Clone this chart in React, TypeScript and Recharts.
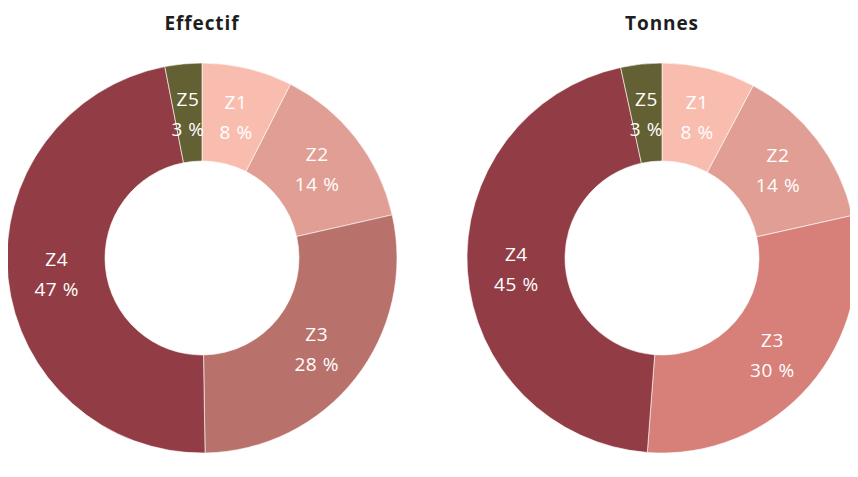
import { Pie, PieChart, Cell } from 'recharts';

const zones = ['Z1', 'Z2', 'Z3', 'Z4', 'Z5'];
// shares in % (labels show them rounded)
const effectifValues = [7.5, 13.95, 28.3, 47.2, 3.05];
const tonnesValues = [7.75, 13.75, 29.7, 45.4, 3.4];
const effectifColors = ['#F9BDAF', '#E09E94', '#B8726B', '#923D45', '#636033'];
const tonnesColors = ['#F9BDAF', '#E09E94', '#D77F79', '#923D45', '#636033'];
const titles = ['Effectif', 'Tonnes'];

const RADIAN = Math.PI / 180;
const font = '"Open Sans", Lato, sans-serif';

function renderLabel(props: any) {
  const { cx, cy, midAngle, innerRadius, outerRadius, payload } = props;
  const r = (innerRadius + outerRadius) / 2;
  const x = cx + r * Math.cos(-midAngle * RADIAN);
  const y = cy + r * Math.sin(-midAngle * RADIAN);
  return (
    <text
      x={x}
      y={y}
      fill="#ffffff"
      textAnchor="middle"
      fontFamily={font}
      fontSize={19}
      letterSpacing={0.6}
    >
      <tspan x={x} dy={-7}>
        {payload.zone}
      </tspan>
      <tspan x={x} dy={30}>
        {`${Math.round(payload.value)} %`}
      </tspan>
    </text>
  );
}

const effectifData = zones.map((zone, i) => ({ zone, value: effectifValues[i] }));
const tonnesData = zones.map((zone, i) => ({ zone, value: tonnesValues[i] }));

export default function App() {
  return (
    <div style={{ position: 'relative', width: 850, height: 469, fontFamily: font, overflow: 'hidden' }}>
      {titles.map((t, i) => (
        <div
          key={t}
          style={{
            position: 'absolute',
            top: 2,
            left: i === 0 ? 94 : 554,
            width: 200,
            textAlign: 'center',
            fontSize: 19,
            letterSpacing: 0.9,
            fontWeight: 700,
            color: '#1e1e1e',
          }}
        >
          {t}
        </div>
      ))}
      <PieChart width={850} height={469} margin={{ top: 0, right: 0, bottom: 0, left: 0 }}>
        <Pie
          data={effectifData}
          dataKey="value"
          nameKey="zone"
          cx={194}
          cy={250}
          innerRadius={97}
          outerRadius={195}
          startAngle={90}
          endAngle={-270}
          stroke="#ffffff"
          strokeWidth={0.6}
          label={renderLabel}
          labelLine={false}
          isAnimationActive={false}
        >
          {effectifData.map((d, i) => (
            <Cell key={d.zone} fill={effectifColors[i]} />
          ))}
        </Pie>
        <Pie
          data={tonnesData}
          dataKey="value"
          nameKey="zone"
          cx={654}
          cy={250}
          innerRadius={97}
          outerRadius={195}
          startAngle={90}
          endAngle={-270}
          stroke="#ffffff"
          strokeWidth={0.6}
          label={renderLabel}
          labelLine={false}
          isAnimationActive={false}
        >
          {tonnesData.map((d, i) => (
            <Cell key={d.zone} fill={tonnesColors[i]} />
          ))}
        </Pie>
      </PieChart>
    </div>
  );
}
